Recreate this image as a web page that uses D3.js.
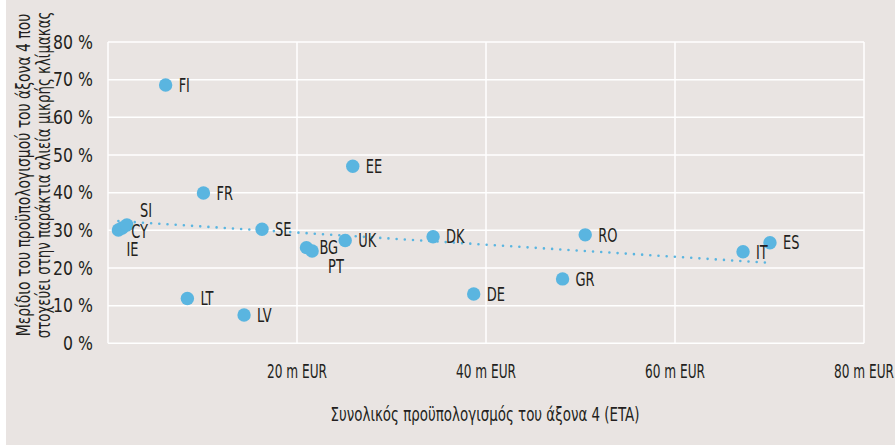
<!DOCTYPE html>
<html>
<head>
<meta charset="utf-8">
<script src="https://cdn.jsdelivr.net/npm/d3@7/dist/d3.min.js"></script>
<style>
  html, body { margin: 0; padding: 0; background: #ffffff; }
  svg { display: block; }
  text { font-family: "Liberation Sans Narrow", "DejaVu Sans Condensed", "Roboto", sans-serif; fill: #231f20; }
</style>
</head>
<body>
<svg id="chart" width="895" height="445"></svg>
<script>
// ---- data ----
const countries = ["FI","EE","FR","IE","CY","SI","SE","LT","LV","BG","PT","UK","DK","DE","RO","GR","IT","ES"];
const budget    = [6.1, 25.9, 10.1, 1.1, 1.5, 2.0, 16.3, 8.4, 14.4, 21.0, 21.6, 25.1, 34.4, 38.7, 50.5, 48.1, 67.2, 70.05]; // m EUR
const share     = [68.6, 47.0, 39.9, 30.1, 30.6, 31.4, 30.3, 11.9, 7.5, 25.4, 24.5, 27.3, 28.3, 13.1, 28.8, 17.1, 24.3, 26.7]; // %
const xTicks = [20, 40, 60, 80];
const yTicks = [0, 10, 20, 30, 40, 50, 60, 70, 80];
const xTickLabels = ["20 m EUR", "40 m EUR", "60 m EUR", "80 m EUR"];
const xTitle = "Συνολικός προϋπολογισμός του άξονα 4 (ETA)";
const yTitleLines = ["Μερίδιο του προϋπολογισμού του άξονα 4 που", "στοχεύει στην παράκτια αλιεία μικρής κλίμακας"];

// ---- layout (not data) ----
const labelOffset = { SI: [13, -15], CY: [9, 3], IE: [8, 19], PT: [16, 15.5] };
const defaultOffset = [13, 0];
const blue = "#5ab5e0";
const grid = "#ffffff";

const svg = d3.select("#chart");
svg.append("rect").attr("x", 6).attr("y", 0).attr("width", 889).attr("height", 445).attr("fill", "#e9e4e2");

const x = d3.scaleLinear().domain([0, 80]).range([108, 864]);
const y = d3.scaleLinear().domain([0, 80]).range([343.3, 42]);

function sText(g, sx, txt) {
  return g.append("text").attr("transform", `scale(${sx},1)`).text(txt);
}
// squeeze a text horizontally to a target length
function fitText(t, target) {
  const len = t.node().getComputedTextLength();
  if (len > 0) t.attr("transform", `scale(${target / len},1)`);
  return t;
}

// gridlines
const gridG = svg.append("g");
gridG.selectAll("line.h").data(yTicks).join("line")
  .attr("x1", x(0)).attr("x2", x(80)).attr("y1", d => y(d)).attr("y2", d => y(d))
  .attr("stroke", grid).attr("stroke-width", 1.5);
gridG.selectAll("line.v").data([0].concat(xTicks)).join("line")
  .attr("y1", y(0)).attr("y2", y(80)).attr("x1", d => x(d)).attr("x2", d => x(d))
  .attr("stroke", grid).attr("stroke-width", 1.5);

// y tick labels
yTicks.forEach(t => {
  const g = svg.append("g").attr("transform", `translate(93,${y(t)})`);
  sText(g, 0.92, t + " %").attr("text-anchor", "end").attr("dominant-baseline", "central").attr("font-size", 19);
});
// x tick labels
xTicks.forEach((t, i) => {
  const g = svg.append("g").attr("transform", `translate(${x(t)},377.5)`);
  const tt = sText(g, 1, xTickLabels[i]).attr("text-anchor", "middle").attr("font-size", 19);
  fitText(tt, 60);
});

// trend line (least squares from the points)
const n = budget.length;
const mx = d3.mean(budget), my = d3.mean(share);
let sxy = 0, sxx = 0;
for (let i = 0; i < n; i++) { sxy += (budget[i] - mx) * (share[i] - my); sxx += (budget[i] - mx) ** 2; }
const slope = sxy / sxx, icpt = my - slope * mx;
const x0 = d3.min(budget), x1 = d3.max(budget);
svg.append("line")
  .attr("x1", x(x0)).attr("y1", y(icpt + slope * x0))
  .attr("x2", x(x1)).attr("y2", y(icpt + slope * x1))
  .attr("stroke", blue).attr("stroke-width", 2.6)
  .attr("stroke-linecap", "round").attr("stroke-dasharray", "0,8.2");

// points
svg.append("g").selectAll("circle").data(countries).join("circle")
  .attr("cx", (d, i) => x(budget[i])).attr("cy", (d, i) => y(share[i]))
  .attr("r", 6.7).attr("fill", blue);

// labels
countries.forEach((c, i) => {
  const o = labelOffset[c] || defaultOffset;
  const g = svg.append("g").attr("transform", `translate(${x(budget[i]) + o[0]},${y(share[i]) + o[1]})`);
  sText(g, 0.76, c).attr("dominant-baseline", "central").attr("font-size", 19);
});

// axis titles
{
  const g = svg.append("g").attr("transform", `translate(485,421)`);
  const t = sText(g, 1, xTitle).attr("text-anchor", "middle").attr("font-size", 19);
  fitText(t, 309);
}
const yTitleLen = [323, 327];
yTitleLines.forEach((l, i) => {
  const g = svg.append("g").attr("transform", `translate(${30 + i * 20},175) rotate(-90)`);
  const t = sText(g, 1, l).attr("text-anchor", "middle").attr("font-size", 19);
  fitText(t, yTitleLen[i]);
});
</script>
</body>
</html>
